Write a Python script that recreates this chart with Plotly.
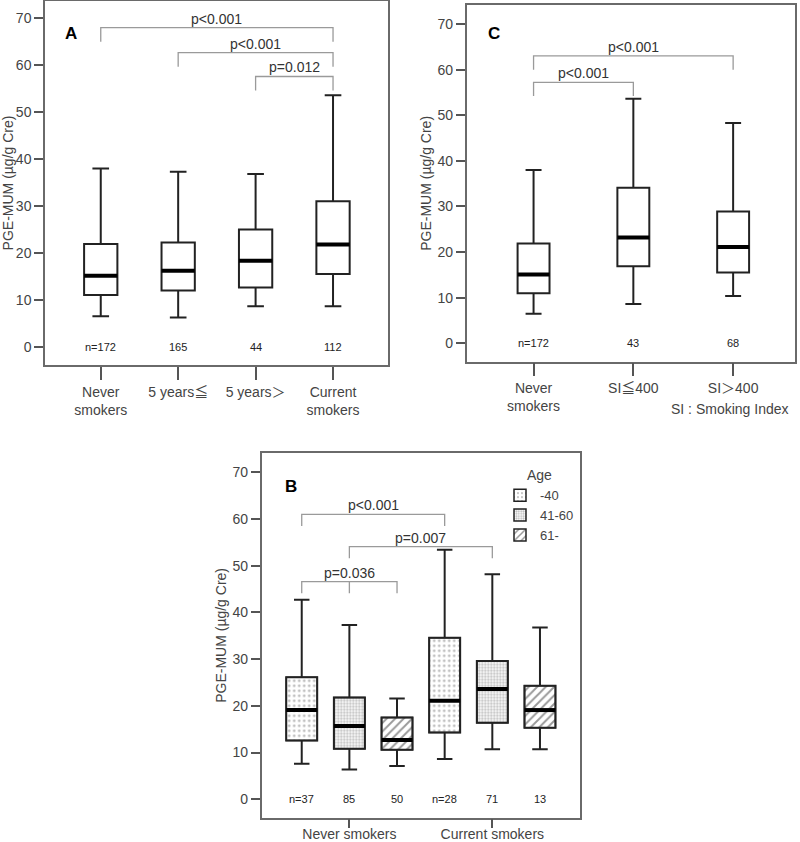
import plotly.graph_objects as go

# ---------------- data ----------------
# Panel A
a_labels = ["Never<br>smokers", "5 years≦", "5 years＞", "Current<br>smokers"]
a_low = [6.5, 6.2, 8.6, 8.6]
a_q1 = [11.0, 12.0, 12.6, 15.5]
a_med = [15.1, 16.2, 18.3, 21.8]
a_q3 = [21.9, 22.2, 25.0, 31.0]
a_high = [38.0, 37.3, 36.8, 53.6]
a_n = ["n=172", "165", "44", "112"]
a_brackets = [(0, 3, 68.0, "p<0.001"), (1, 3, 62.7, "p<0.001"), (2, 3, 57.6, "p=0.012")]

# Panel C
c_labels = ["Never<br>smokers", "SI≦400", "SI＞400"]
c_low = [6.5, 8.6, 10.4]
c_q1 = [11.0, 16.9, 15.5]
c_med = [15.1, 23.2, 21.1]
c_q3 = [21.9, 34.1, 28.9]
c_high = [38.0, 53.6, 48.3]
c_n = ["n=172", "43", "68"]
c_brackets = [(0, 2, 63.0, "p<0.001"), (0, 1, 57.2, "p<0.001")]

# Panel B
b_groups = ["Never smokers", "Current smokers"]
b_ages = ["-40", "41-60", "61-"]
b_low = [[7.6, 6.4, 7.1], [8.6, 10.7, 10.7]]
b_q1 = [[12.6, 10.8, 10.6], [14.3, 16.4, 15.3]]
b_med = [[19.1, 15.7, 12.7], [21.1, 23.6, 19.1]]
b_q3 = [[26.1, 21.8, 17.5], [34.6, 29.6, 24.3]]
b_high = [[42.7, 37.3, 21.6], [53.4, 48.2, 36.8]]
b_n = [["n=37", "85", "50"], ["n=28", "71", "13"]]
b_brackets = [(0, 3, 61.0, "p<0.001", None), (1, 4, 54.1, "p=0.007", None),
              (0, 2, 46.6, "p=0.036", 1)]

# ---------------- style ----------------
FONT = "Liberation Sans, Arial, Noto Sans CJK JP, sans-serif"
TXT = "#444444"
FRAME = "#6a6a6a"
BOXLINE = "#222222"
BRK = "#9a9a9a"
patterns = [dict(shape=".", size=5, solidity=0.18, fgcolor="#666666", bgcolor="white"),
            dict(shape=".", size=3, solidity=0.45, fgcolor="#777777", bgcolor="white"),
            dict(shape="/", size=6, solidity=0.32, fgcolor="#333333", bgcolor="white")]

W, H = 800, 842


def PX(px):
    return px / W


def PY(py):
    return 1 - py / H


fig = go.Figure()
annotations = []


def add_boxes(xa, ya, pos, low, q1, med, q3, high, width, fill):
    fig.add_trace(go.Box(x=pos, q1=q1, median=med, q3=q3, lowerfence=low, upperfence=high,
                         width=width, whiskerwidth=0.5, fillcolor=fill,
                         line=dict(color=BOXLINE, width=2), boxpoints=False,
                         xaxis=xa, yaxis=ya, showlegend=False, hoverinfo="skip"))
    mx, my = [], []
    for p, m in zip(pos, med):
        mx += [p - width / 2, p + width / 2, None]
        my += [m, m, None]
    fig.add_trace(go.Scatter(x=mx, y=my, mode="lines", line=dict(color="black", width=4),
                             xaxis=xa, yaxis=ya, showlegend=False, hoverinfo="skip"))


def add_brackets(xa, ya, brackets, depth):
    for br in brackets:
        i, j, yl, lab = br[0], br[1], br[2], br[3]
        mid = br[4] if len(br) > 4 else None
        bx = [i, i, j, j]
        by = [yl - depth, yl, yl, yl - depth]
        if mid is not None:
            bx += [None, mid, mid]
            by += [None, yl, yl - depth]
        fig.add_trace(go.Scatter(x=bx, y=by, mode="lines", line=dict(color=BRK, width=1.3),
                                 xaxis=xa, yaxis=ya, showlegend=False, hoverinfo="skip"))
        cx = mid if mid is not None else (i + j) / 2
        annotations.append(dict(x=cx, y=yl, xref=xa, yref=ya, text=lab, showarrow=False,
                                yanchor="bottom", yshift=-1,
                                font=dict(family=FONT, size=14, color="#333333")))


def add_n(xa, ya, pos, labels):
    for p, t in zip(pos, labels):
        annotations.append(dict(x=p, y=0, xref=xa, yref=ya, text=t, showarrow=False,
                                font=dict(family=FONT, size=11, color="#222222")))


# Panel A
a_pos = list(range(len(a_labels)))
add_boxes("x", "y", a_pos, a_low, a_q1, a_med, a_q3, a_high, 0.43, "white")
add_brackets("x", "y", a_brackets, 3.0)
add_n("x", "y", a_pos, a_n)

# Panel C
c_pos = list(range(len(c_labels)))
add_boxes("x2", "y2", c_pos, c_low, c_q1, c_med, c_q3, c_high, 0.32, "white")
add_brackets("x2", "y2", c_brackets, 3.0)
add_n("x2", "y2", c_pos, c_n)

# Panel B
BW = 0.65
for k, age in enumerate(b_ages):
    pos = [g * len(b_ages) + k for g in range(len(b_groups))]
    q1 = [b_q1[g][k] for g in range(len(b_groups))]
    q3 = [b_q3[g][k] for g in range(len(b_groups))]
    fig.add_trace(go.Bar(x=pos, y=[h - l for h, l in zip(q3, q1)], base=q1, width=BW,
                         marker=dict(color="white", pattern=patterns[k],
                                     line=dict(width=1.5, color=BOXLINE)),
                         name=age, xaxis="x3", yaxis="y3", hoverinfo="skip"))
b_pos, b_lo, b_qa, b_md, b_qb, b_hi, b_nl = [], [], [], [], [], [], []
for g in range(len(b_groups)):
    for k in range(len(b_ages)):
        b_pos.append(g * len(b_ages) + k)
        b_lo.append(b_low[g][k]); b_qa.append(b_q1[g][k]); b_md.append(b_med[g][k])
        b_qb.append(b_q3[g][k]); b_hi.append(b_high[g][k]); b_nl.append(b_n[g][k])
add_boxes("x3", "y3", b_pos, b_lo, b_qa, b_md, b_qb, b_hi, BW, "rgba(0,0,0,0)")
add_brackets("x3", "y3", b_brackets, 2.5)
add_n("x3", "y3", b_pos, b_nl)

# panel letters
for xa, lx, ly, t in [("x", 0.052, 0.942, "A"), ("x2", 0.059, 0.952, "C"), ("x3", 0.066, 0.94, "B")]:
    annotations.append(dict(x=lx, y=ly, xref=xa + " domain", yref=xa.replace("x", "y") + " domain",
                            text="<b>" + t + "</b>", showarrow=False,
                            font=dict(family=FONT, size=17, color="black")))
annotations.append(dict(x=PX(730), y=PY(409), xref="paper", yref="paper",
                        text="SI : Smoking Index", showarrow=False, xanchor="center",
                        font=dict(family=FONT, size=14, color=TXT)))


def xax(domain, rng, tickvals, ticktext, ticklen=13, standoff=0):
    return dict(domain=domain, range=rng, tickvals=tickvals, ticktext=ticktext,
                showline=True, mirror=True, linecolor=FRAME, linewidth=1.5,
                ticks="outside", ticklen=ticklen, tickwidth=1.5, tickcolor="#555555",
                showgrid=False, zeroline=False, automargin=False,
                ticklabelstandoff=standoff,
                tickfont=dict(family=FONT, size=14, color=TXT))


def yax(domain, rng, anchor):
    return dict(domain=domain, range=rng, anchor=anchor, tickvals=list(range(0, 80, 10)),
                showline=True, mirror=True, linecolor=FRAME, linewidth=1.5,
                ticks="outside", ticklen=9, tickwidth=1.5, tickcolor="#555555",
                showgrid=False, zeroline=False, automargin=False,
                tickfont=dict(family=FONT, size=14, color=TXT),
                title=dict(text="PGE-MUM (µg/g Cre)", standoff=3,
                           font=dict(family=FONT, size=14, color=TXT)))


fig.update_layout(
    width=W, height=H, margin=dict(l=0, r=0, t=0, b=0, autoexpand=False),
    paper_bgcolor="white", plot_bgcolor="white", barmode="overlay", boxmode="overlay",
    xaxis=xax([PX(45), PX(388)], [-0.72, 3.71], a_pos, a_labels) | dict(anchor="y"),
    yaxis=yax([PY(365), PY(1)], [-3.9, 73.69], "x"),
    xaxis2=xax([PX(466.7), PX(795)], [-0.67, 2.62], c_pos, c_labels) | dict(anchor="y2"),
    yaxis2=yax([PY(361.7), PY(5)], [-4.03, 74.17], "x2"),
    xaxis3=xax([PX(261.7), PX(580)], [-0.84, 5.84],
               [g * len(b_ages) + 1 for g in range(len(b_groups))], b_groups,
               ticklen=9, standoff=-6) | dict(anchor="y3"),
    yaxis3=yax([PY(817.5), PY(453.3)], [-3.9, 74.07], "x3"),
    legend=dict(x=PX(500), y=PY(462), xanchor="left", yanchor="top",
                bgcolor="rgba(0,0,0,0)", font=dict(family=FONT, size=13, color=TXT),
                title=dict(text="Age", side="top center", font=dict(family=FONT, size=14, color=TXT)),
                itemwidth=30, tracegroupgap=0),
    annotations=annotations,
)

fig.write_html("out.html", config={"displayModeBar": False},
               post_script="document.body.style.margin='0';document.body.style.overflow='hidden';")
